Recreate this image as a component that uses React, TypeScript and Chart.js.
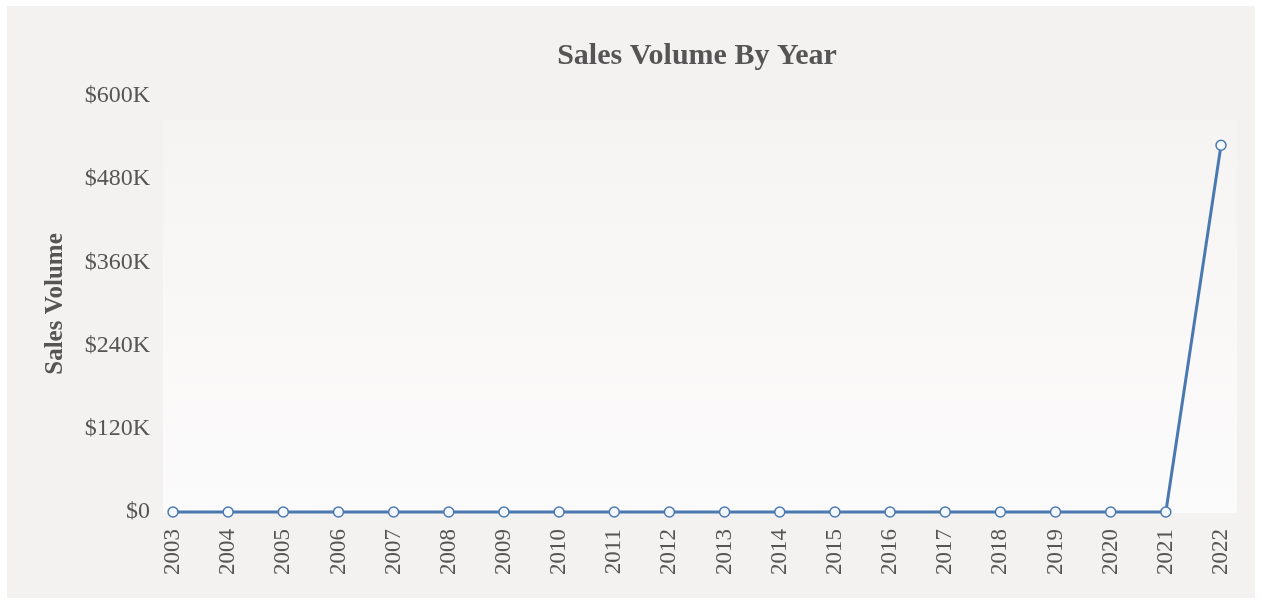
import React, { useEffect, useRef } from 'react';
import { Chart, registerables } from 'chart.js';

Chart.register(...registerables);

const years = [
    '2003', '2004', '2005', '2006', '2007', '2008', '2009', '2010', '2011', '2012',
    '2013', '2014', '2015', '2016', '2017', '2018', '2019', '2020', '2021', '2022'
];

const salesVolume = [
    0, 0, 0, 0, 0, 0, 0, 0, 0, 0,
    0, 0, 0, 0, 0, 0, 0, 0, 0, 529000
];

const yTicks = [0, 120000, 240000, 360000, 480000, 600000];

const serif = "'Liberation Serif', 'Times New Roman', serif";

// soft gradient panel behind the plot, a bit wider than the chart area
const plotBackground = {
    id: 'plotBackground',
    beforeDraw(chart: Chart) {
        const { ctx, chartArea } = chart;
        if (!chartArea) return;
        const left = chartArea.left - 10;
        const right = chartArea.right + 16;
        const top = chartArea.top + 24;
        const bottom = chartArea.bottom + 1;
        const grad = ctx.createLinearGradient(0, top, 0, bottom);
        grad.addColorStop(0, '#f6f4f3');
        grad.addColorStop(1, '#fcfbfb');
        ctx.save();
        ctx.fillStyle = grad;
        ctx.fillRect(left, top, right - left, bottom - top);
        ctx.restore();
    }
};

export default function App() {
    const canvasRef = useRef<HTMLCanvasElement>(null);

    useEffect(() => {
        const ctx = canvasRef.current?.getContext('2d');
        if (!ctx) return;

        const chart = new Chart(ctx, {
            type: 'line',
            data: {
                labels: years,
                datasets: [{
                    label: 'Sales Volume',
                    data: salesVolume,
                    borderColor: '#4a78b0',
                    borderWidth: 3,
                    pointRadius: 5,
                    pointHoverRadius: 5,
                    pointBackgroundColor: '#f4f9ff',
                    pointBorderColor: '#4a78b0',
                    pointBorderWidth: 1.5,
                    tension: 0,
                    clip: false
                }]
            },
            options: {
                animation: false,
                responsive: true,
                maintainAspectRatio: false,
                layout: { padding: { left: 0, right: 34, top: 0, bottom: 0 } },
                plugins: {
                    legend: { display: false },
                    tooltip: { enabled: false },
                    title: {
                        display: true,
                        text: 'Sales Volume By Year',
                        fullSize: false,
                        color: '#555555',
                        font: { family: serif, size: 30, weight: 'bold' },
                        padding: { top: 32, bottom: 22 }
                    }
                },
                scales: {
                    x: {
                        offset: false,
                        grid: { display: false, drawTicks: false },
                        border: { display: false },
                        ticks: {
                            color: '#555555',
                            font: { family: serif, size: 23 },
                            minRotation: 90,
                            maxRotation: 90,
                            padding: 17,
                            autoSkip: false
                        },
                        afterFit(scale) {
                            scale.height = 86;
                            // rotated labels sit right under their points, no extra side room
                            scale.paddingLeft = 0;
                            scale.paddingRight = 0;
                        }
                    },
                    y: {
                        min: 0,
                        max: 600000,
                        afterBuildTicks(scale) {
                            scale.ticks = yTicks.map(v => ({ value: v }));
                        },
                        grid: { display: false, drawTicks: false },
                        border: { display: false },
                        ticks: {
                            color: '#555555',
                            font: { family: serif, size: 24 },
                            padding: 23,
                            callback: (v) => (Number(v) === 0 ? '$0' : `$${Number(v) / 1000}K`)
                        },
                        title: {
                            display: true,
                            text: 'Sales Volume',
                            color: '#555555',
                            font: { family: serif, size: 25, weight: 'bold' },
                            padding: { top: 34, bottom: 0 }
                        },
                        afterFit(scale) {
                            scale.width = 166;
                        }
                    }
                }
            },
            plugins: [plotBackground]
        });

        return () => chart.destroy();
    }, []);

    return (
        <div style={{ position: 'fixed', left: 0, top: 0, width: '100vw', height: '100vh', background: '#ffffff' }}>
            <div style={{ position: 'absolute', left: 7, top: 6, width: 1248, height: 592, background: '#f4f2f1' }}>
                <canvas ref={canvasRef}></canvas>
            </div>
        </div>
    );
}
